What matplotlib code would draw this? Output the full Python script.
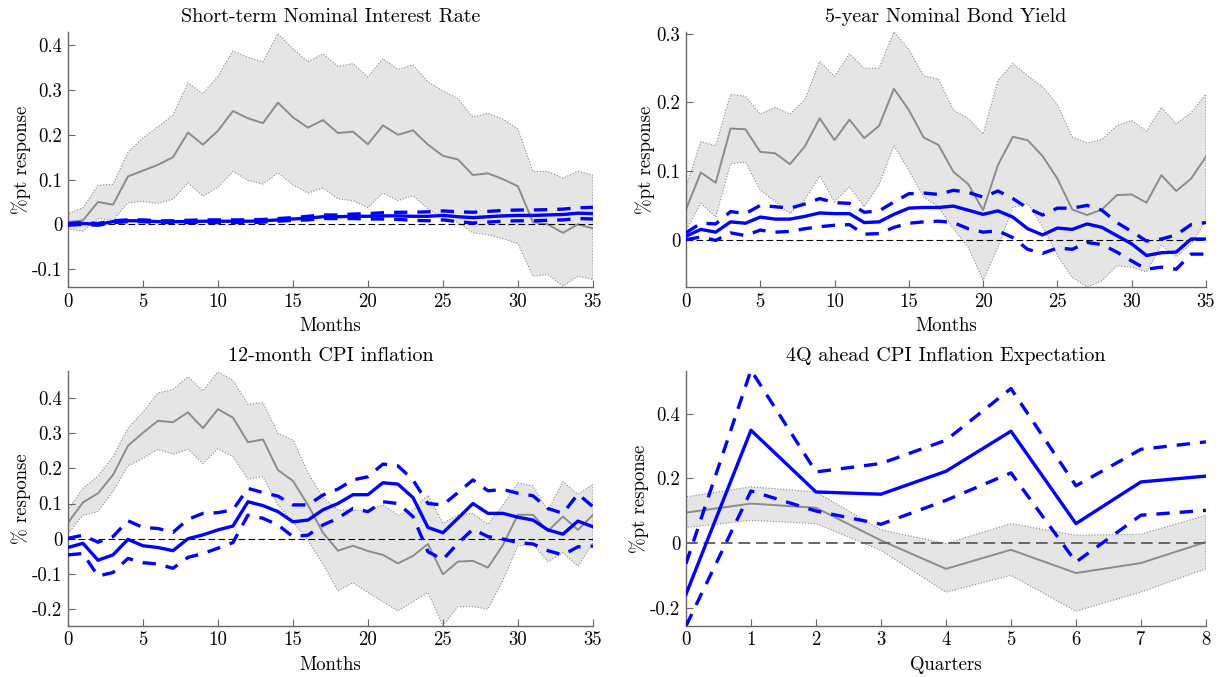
import numpy as np
import matplotlib
matplotlib.use("Agg")
import matplotlib.pyplot as plt

# ---- data ----
months = np.arange(36)
quarters = np.arange(9)

# Short-term nominal interest rate
rate_mid = [0.005, 0.009, 0.050, 0.044, 0.107, 0.120, 0.133, 0.150, 0.205, 0.178,
            0.209, 0.253, 0.237, 0.226, 0.272, 0.239, 0.216, 0.233, 0.204, 0.207,
            0.179, 0.221, 0.200, 0.210, 0.178, 0.153, 0.145, 0.110, 0.114, 0.101,
            0.085, 0.005, 0.000, -0.019, 0.000, -0.009]
rate_hi = [0.024, 0.037, 0.087, 0.090, 0.161, 0.193, 0.218, 0.244, 0.316, 0.292,
           0.331, 0.387, 0.373, 0.363, 0.426, 0.392, 0.363, 0.381, 0.353, 0.359,
           0.329, 0.370, 0.346, 0.356, 0.318, 0.298, 0.281, 0.239, 0.248, 0.235,
           0.213, 0.118, 0.118, 0.103, 0.119, 0.110]
rate_lo = [-0.010, -0.015, 0.013, 0.009, 0.048, 0.051, 0.047, 0.056, 0.093, 0.063,
           0.083, 0.118, 0.098, 0.090, 0.115, 0.088, 0.070, 0.081, 0.057, 0.053,
           0.037, 0.070, 0.053, 0.064, 0.035, 0.016, 0.004, -0.019, -0.023, -0.032,
           -0.043, -0.116, -0.112, -0.138, -0.116, -0.123]
rate_b_mid = [0.000, 0.002, 0.000, 0.006, 0.008, 0.008, 0.006, 0.006, 0.006, 0.007,
              0.007, 0.007, 0.007, 0.008, 0.010, 0.012, 0.014, 0.017, 0.017, 0.018,
              0.018, 0.019, 0.019, 0.018, 0.018, 0.020, 0.017, 0.015, 0.017, 0.019,
              0.020, 0.020, 0.021, 0.022, 0.025, 0.024]
rate_b_hi = [0.002, 0.004, 0.002, 0.008, 0.010, 0.010, 0.008, 0.008, 0.009, 0.010,
             0.010, 0.010, 0.010, 0.011, 0.013, 0.015, 0.018, 0.021, 0.021, 0.023,
             0.024, 0.026, 0.027, 0.027, 0.028, 0.030, 0.028, 0.027, 0.029, 0.031,
             0.032, 0.032, 0.033, 0.034, 0.037, 0.038]
rate_b_lo = [-0.002, 0.000, -0.002, 0.004, 0.006, 0.006, 0.004, 0.004, 0.004, 0.004,
             0.004, 0.004, 0.004, 0.005, 0.007, 0.009, 0.010, 0.013, 0.013, 0.013,
             0.012, 0.012, 0.011, 0.009, 0.008, 0.010, 0.006, 0.003, 0.005, 0.007,
             0.008, 0.008, 0.009, 0.010, 0.013, 0.012]

# 5-year nominal bond yield
bond_mid = [0.044, 0.098, 0.083, 0.162, 0.161, 0.128, 0.126, 0.110, 0.136, 0.177,
            0.145, 0.175, 0.148, 0.166, 0.220, 0.189, 0.149, 0.138, 0.099, 0.081,
            0.043, 0.109, 0.150, 0.145, 0.122, 0.089, 0.044, 0.036, 0.044, 0.065,
            0.066, 0.054, 0.094, 0.071, 0.089, 0.121]
bond_hi = [0.077, 0.143, 0.137, 0.212, 0.209, 0.183, 0.193, 0.183, 0.204, 0.260,
           0.238, 0.271, 0.250, 0.250, 0.303, 0.277, 0.239, 0.234, 0.189, 0.177,
           0.154, 0.232, 0.257, 0.239, 0.223, 0.197, 0.150, 0.141, 0.146, 0.166,
           0.174, 0.158, 0.193, 0.169, 0.185, 0.212]
bond_lo = [0.014, 0.053, 0.033, 0.111, 0.113, 0.072, 0.056, 0.038, 0.058, 0.093,
           0.055, 0.077, 0.048, 0.080, 0.137, 0.101, 0.062, 0.048, 0.016, -0.011,
           -0.059, -0.011, 0.047, 0.053, 0.019, -0.023, -0.055, -0.069, -0.060, -0.038,
           -0.040, -0.047, -0.008, -0.025, -0.006, 0.028]
bond_b_mid = [0.005, 0.015, 0.011, 0.026, 0.024, 0.033, 0.030, 0.030, 0.034, 0.039,
              0.038, 0.038, 0.025, 0.026, 0.037, 0.046, 0.047, 0.047, 0.049, 0.043,
              0.037, 0.042, 0.033, 0.016, 0.007, 0.017, 0.015, 0.023, 0.018, 0.006,
              -0.006, -0.023, -0.019, -0.018, 0.001, 0.001]
bond_b_hi = [0.010, 0.024, 0.023, 0.041, 0.038, 0.050, 0.048, 0.046, 0.052, 0.060,
             0.054, 0.053, 0.040, 0.042, 0.055, 0.067, 0.068, 0.066, 0.072, 0.069,
             0.062, 0.071, 0.060, 0.046, 0.036, 0.046, 0.046, 0.050, 0.043, 0.025,
             0.012, -0.002, 0.001, 0.007, 0.022, 0.025]
bond_b_lo = [0.000, 0.004, -0.001, 0.010, 0.006, 0.014, 0.011, 0.012, 0.016, 0.019,
             0.021, 0.022, 0.008, 0.009, 0.018, 0.024, 0.026, 0.027, 0.025, 0.016,
             0.011, 0.013, 0.003, -0.014, -0.020, -0.012, -0.014, -0.004, -0.007, -0.018,
             -0.031, -0.043, -0.040, -0.043, -0.021, -0.021]

# 12-month CPI inflation
cpi_mid = [0.045, 0.103, 0.129, 0.181, 0.264, 0.301, 0.335, 0.331, 0.359, 0.314,
           0.368, 0.344, 0.274, 0.282, 0.195, 0.164, 0.096, 0.017, -0.034, -0.020,
           -0.035, -0.046, -0.070, -0.049, -0.015, -0.101, -0.065, -0.063, -0.082, -0.018,
           0.068, 0.068, 0.022, 0.063, 0.025, 0.068]
cpi_hi = [0.082, 0.143, 0.178, 0.233, 0.314, 0.360, 0.414, 0.424, 0.460, 0.420,
          0.474, 0.450, 0.382, 0.387, 0.299, 0.280, 0.188, 0.117, 0.082, 0.082,
          0.080, 0.096, 0.067, 0.082, 0.124, 0.044, 0.067, 0.072, 0.041, 0.096,
          0.159, 0.150, 0.080, 0.162, 0.126, 0.155]
cpi_lo = [0.015, 0.067, 0.077, 0.134, 0.207, 0.228, 0.254, 0.240, 0.254, 0.214,
          0.255, 0.233, 0.169, 0.176, 0.096, 0.048, -0.004, -0.072, -0.148, -0.125,
          -0.153, -0.179, -0.205, -0.179, -0.153, -0.247, -0.193, -0.193, -0.200, -0.118,
          -0.021, -0.015, -0.065, -0.040, -0.078, -0.013]
cpi_b_mid = [-0.025, -0.013, -0.061, -0.046, -0.002, -0.020, -0.025, -0.034, 0.000, 0.011,
             0.025, 0.036, 0.105, 0.094, 0.077, 0.048, 0.053, 0.082, 0.100, 0.125,
             0.125, 0.159, 0.155, 0.117, 0.032, 0.017, 0.058, 0.100, 0.072, 0.072,
             0.061, 0.053, 0.025, 0.013, 0.050, 0.034]
cpi_b_hi = [0.001, 0.010, -0.010, 0.006, 0.051, 0.032, 0.029, 0.018, 0.055, 0.072,
            0.074, 0.082, 0.143, 0.131, 0.121, 0.096, 0.096, 0.124, 0.141, 0.167,
            0.176, 0.212, 0.207, 0.167, 0.100, 0.096, 0.131, 0.167, 0.136, 0.140,
            0.129, 0.122, 0.086, 0.072, 0.127, 0.091]
cpi_b_lo = [-0.046, -0.042, -0.106, -0.096, -0.056, -0.068, -0.072, -0.084, -0.053, -0.042,
            -0.027, -0.011, 0.067, 0.058, 0.039, 0.006, 0.010, 0.039, 0.058, 0.086,
            0.077, 0.105, 0.100, 0.063, -0.037, -0.059, -0.013, 0.027, 0.006, -0.001,
            -0.011, -0.015, -0.034, -0.046, -0.023, -0.021]

# 4Q ahead CPI inflation expectation
exp_mid = [0.094, 0.122, 0.109, 0.008, -0.080, -0.021, -0.093, -0.062, 0.003]
exp_hi = [0.143, 0.174, 0.158, 0.041, -0.002, 0.060, 0.024, 0.027, 0.086]
exp_lo = [0.048, 0.070, 0.060, -0.023, -0.152, -0.100, -0.211, -0.152, -0.080]
exp_b_mid = [-0.159, 0.349, 0.158, 0.151, 0.222, 0.346, 0.060, 0.189, 0.207]
exp_b_hi = [-0.064, 0.535, 0.220, 0.246, 0.318, 0.478, 0.177, 0.290, 0.313]
exp_b_lo = [-0.257, 0.161, 0.099, 0.058, 0.132, 0.217, -0.059, 0.086, 0.101]

titles = ["Short-term Nominal Interest Rate", "5-year Nominal Bond Yield",
          "12-month CPI inflation", "4Q ahead CPI Inflation Expectation"]
ylabels = ["%pt response", "%pt response", "% response", "%pt response"]
xlabels = ["Months", "Months", "Months", "Quarters"]
yticks = [[-0.1, 0, 0.1, 0.2, 0.3, 0.4], [0, 0.1, 0.2, 0.3],
          [-0.2, -0.1, 0, 0.1, 0.2, 0.3, 0.4], [-0.2, 0, 0.2, 0.4]]
yticklabels = [["-0.1", "0", "0.1", "0.2", "0.3", "0.4"], ["0", "0.1", "0.2", "0.3"],
               ["-0.2", "-0.1", "0", "0.1", "0.2", "0.3", "0.4"], ["-0.2", "0", "0.2", "0.4"]]
ylims = [(-0.14, 0.43), (-0.069, 0.303), (-0.248, 0.477), (-0.257, 0.533)]

plt.rcParams["font.family"] = "cmr10"
plt.rcParams["axes.unicode_minus"] = False
plt.rcParams["font.size"] = 13.5

fig = plt.figure(figsize=(12.18, 6.77), dpi=100)
positions = [[0.0558, 0.576, 0.431, 0.377], [0.5632, 0.576, 0.4269, 0.377],
             [0.0558, 0.0753, 0.431, 0.377], [0.5632, 0.0753, 0.4269, 0.377]]

panels = [
    (months, rate_mid, rate_hi, rate_lo, rate_b_mid, rate_b_hi, rate_b_lo),
    (months, bond_mid, bond_hi, bond_lo, bond_b_mid, bond_b_hi, bond_b_lo),
    (months, cpi_mid, cpi_hi, cpi_lo, cpi_b_mid, cpi_b_hi, cpi_b_lo),
    (quarters, exp_mid, exp_hi, exp_lo, exp_b_mid, exp_b_hi, exp_b_lo),
]

blue = "#0000ff"
for i, (x, mid, hi, lo, bmid, bhi, blo) in enumerate(panels):
    ax = fig.add_axes(positions[i])
    # grey benchmark band with dotted border
    ax.fill_between(x, lo, hi, facecolor="#e5e5e5", edgecolor="#8a8a8a",
                    linestyle=":", linewidth=0.8, zorder=1)
    ax.plot(x, mid, color="#8c8c8c", linewidth=1.4, zorder=2)
    # zero line
    if i == 3:
        ax.axhline(0, color="#666666", linestyle=(0, (6, 3)), linewidth=1.4, zorder=3)
    else:
        ax.axhline(0, color="black", linestyle=(0, (6, 3)), linewidth=0.8, zorder=3)
    # blue response with dashed bands
    ax.plot(x, bhi, color=blue, linewidth=2.4, dashes=(4, 3), zorder=4)
    ax.plot(x, blo, color=blue, linewidth=2.4, dashes=(4, 3), zorder=4)
    ax.plot(x, bmid, color=blue, linewidth=2.4, zorder=5)

    ax.set_xlim(x[0], x[-1])
    ax.set_ylim(*ylims[i])
    if i == 3:
        ax.set_xticks(quarters)
    else:
        ax.set_xticks(np.arange(0, 36, 5))
    ax.set_yticks(yticks[i])
    ax.set_yticklabels(yticklabels[i])
    ax.set_title(titles[i], fontsize=14.5, pad=7)
    ax.set_xlabel(xlabels[i], labelpad=5)
    ax.set_ylabel(ylabels[i], labelpad=1)

    for side in ["top", "right"]:
        ax.spines[side].set_visible(False)
    for side in ["left", "bottom"]:
        ax.spines[side].set_color("#666666")
        ax.spines[side].set_linewidth(1.0)
    ax.tick_params(direction="in", length=5, width=0.8, color="#666666", pad=4)

fig.savefig("out.png", dpi=100)
